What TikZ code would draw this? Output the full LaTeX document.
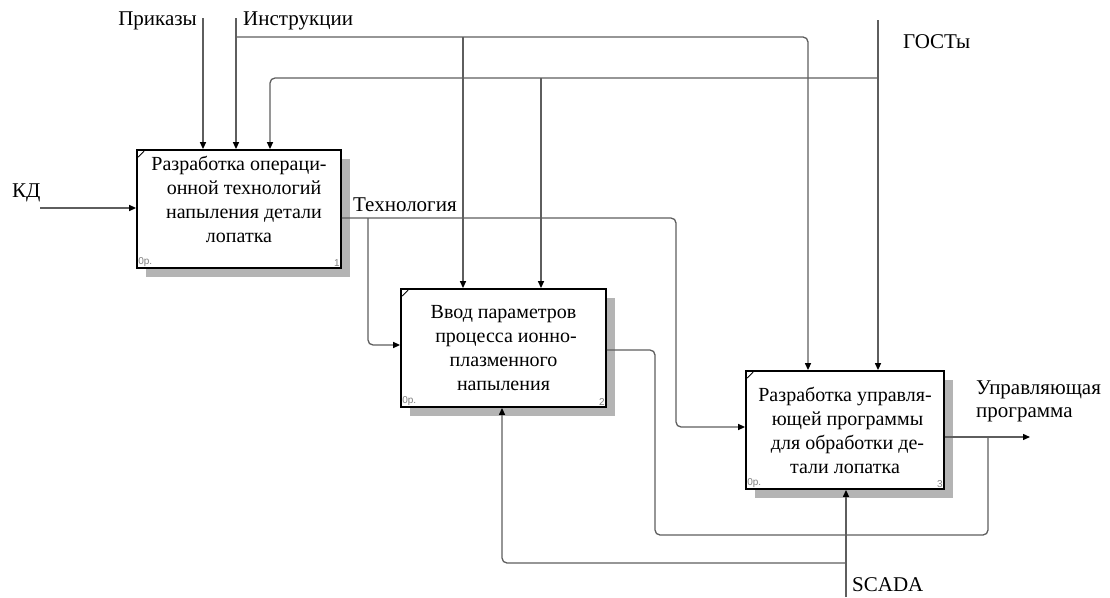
\documentclass[tikz,border=0pt]{standalone}
\usepackage{fontspec}
\setmainfont{Liberation Serif}
\setsansfont{Liberation Sans}
\usepackage{xcolor}
\definecolor{wire}{HTML}{5E5E5E}
\definecolor{shade}{HTML}{B4B4B4}
\usepackage{tikz}
\usetikzlibrary{arrows.meta, shadows, calc}

\begin{document}
\begin{tikzpicture}[x=1pt, y=-1pt,
    >={Triangle[length=7pt, width=6pt, color=black]},
    func/.style={draw=black, line width=1.8pt, fill=white,
        minimum width=#1, minimum height=118pt, align=center,
        font=\fontsize{20}{24}\selectfont, inner sep=2pt,
        drop shadow={shadow xshift=9pt, shadow yshift=-9pt, fill=shade, opacity=1}},
    wireline/.style={draw=wire, line width=1.3pt, rounded corners=5pt},
    arr/.style={wireline, ->},
    lbl/.style={font=\fontsize{21}{23}\selectfont, inner sep=1pt},
    tag/.style={font=\sffamily\fontsize{10}{10}\selectfont, text=gray, inner sep=2pt}]

  \useasboundingbox (0,0) rectangle (1110,597);

  % activity boxes
  \node[func=204pt] (box1) at (239,209)
    {\raisebox{0pt}[\height][\dimexpr\depth+14pt\relax]{\begin{tabular}{@{}c@{}}Разработка операци-\\
     \ \ онной технологий\\ \ \ напыления детали\\ лопатка\end{tabular}}};
  \node[func=205pt] (box2) at (503.5,348)
    {Ввод параметров\\ \ процесса ионно-\\ плазменного\\ напыления};
  \node[func=198pt] (box3) at (845,430)
    {Разработка управля-\\ \ ющей программы\\ \ для обработки де-\\ тали лопатка};

  \foreach \b/\n in {box1/1, box2/2, box3/3} {
    \draw[line width=0.8pt] (\b.north west) ++(2,8) -- ++(6,-6);
    \node[tag, anchor=south west] at (\b.south west) {0р.};
    \node[tag, anchor=south east] at (\b.south east) {\n};
  }

  % free ends
  \coordinate (kd) at (40,208);
  \coordinate (prikazy) at (203,18);
  \coordinate (instr) at (236,18);
  \coordinate (gost) at (878,20);
  \coordinate (scada) at (846,597);
  \coordinate (upr) at (1030,437);

  % inputs
  \draw[arr] (kd) -- (kd -| box1.west);
  \node[lbl, anchor=south west] at (11,203) {КД};

  % controls
  \draw[arr] (prikazy) -- (prikazy |- box1.north);
  \node[lbl, anchor=east] at (198,21) {Приказы};
  \draw[arr] (instr) -- (instr |- box1.north);
  \draw[arr] (236,37) -- (808,37) -- (808,37 |- box3.north);
  \draw[arr] (463,37) -- (463,37 |- box2.north);
  \node[lbl, anchor=west] at (242,21) {Инструкции};

  \draw[arr] (gost) -- (gost |- box3.north);
  \draw[arr] (878,78) -- (270,78) -- (270,78 |- box1.north);
  \draw[arr] (541,78) -- (541,78 |- box2.north);
  \node[lbl, anchor=west] at (902,42) {ГОСТы};

  % Технология
  \draw[arr] (box1.east |- 0,218) -- (676,218) -- (676,427) -- (box3.west |- 0,427);
  \draw[arr] (368,218) -- (368,345) -- (box2.west |- 0,345);
  \node[lbl, anchor=south west] at (352,213) {Технология};

  % outputs
  \draw[wireline] (box2.east |- 0,350) -- (655,350) -- (655,535) -- (988,535) -- (988,437);
  \draw[arr] (box3.east |- 0,437) -- (upr);
  \node[lbl, anchor=south west, align=left] at (975,423) {Управляющая\\программа};

  % mechanism
  \draw[arr] (scada) -- (scada |- box3.south);
  \draw[arr] (846,563) -- (502,563) -- (502,563 |- box2.south);
  \node[lbl, anchor=west] at (851,585) {SCADA};

\end{tikzpicture}
\end{document}
